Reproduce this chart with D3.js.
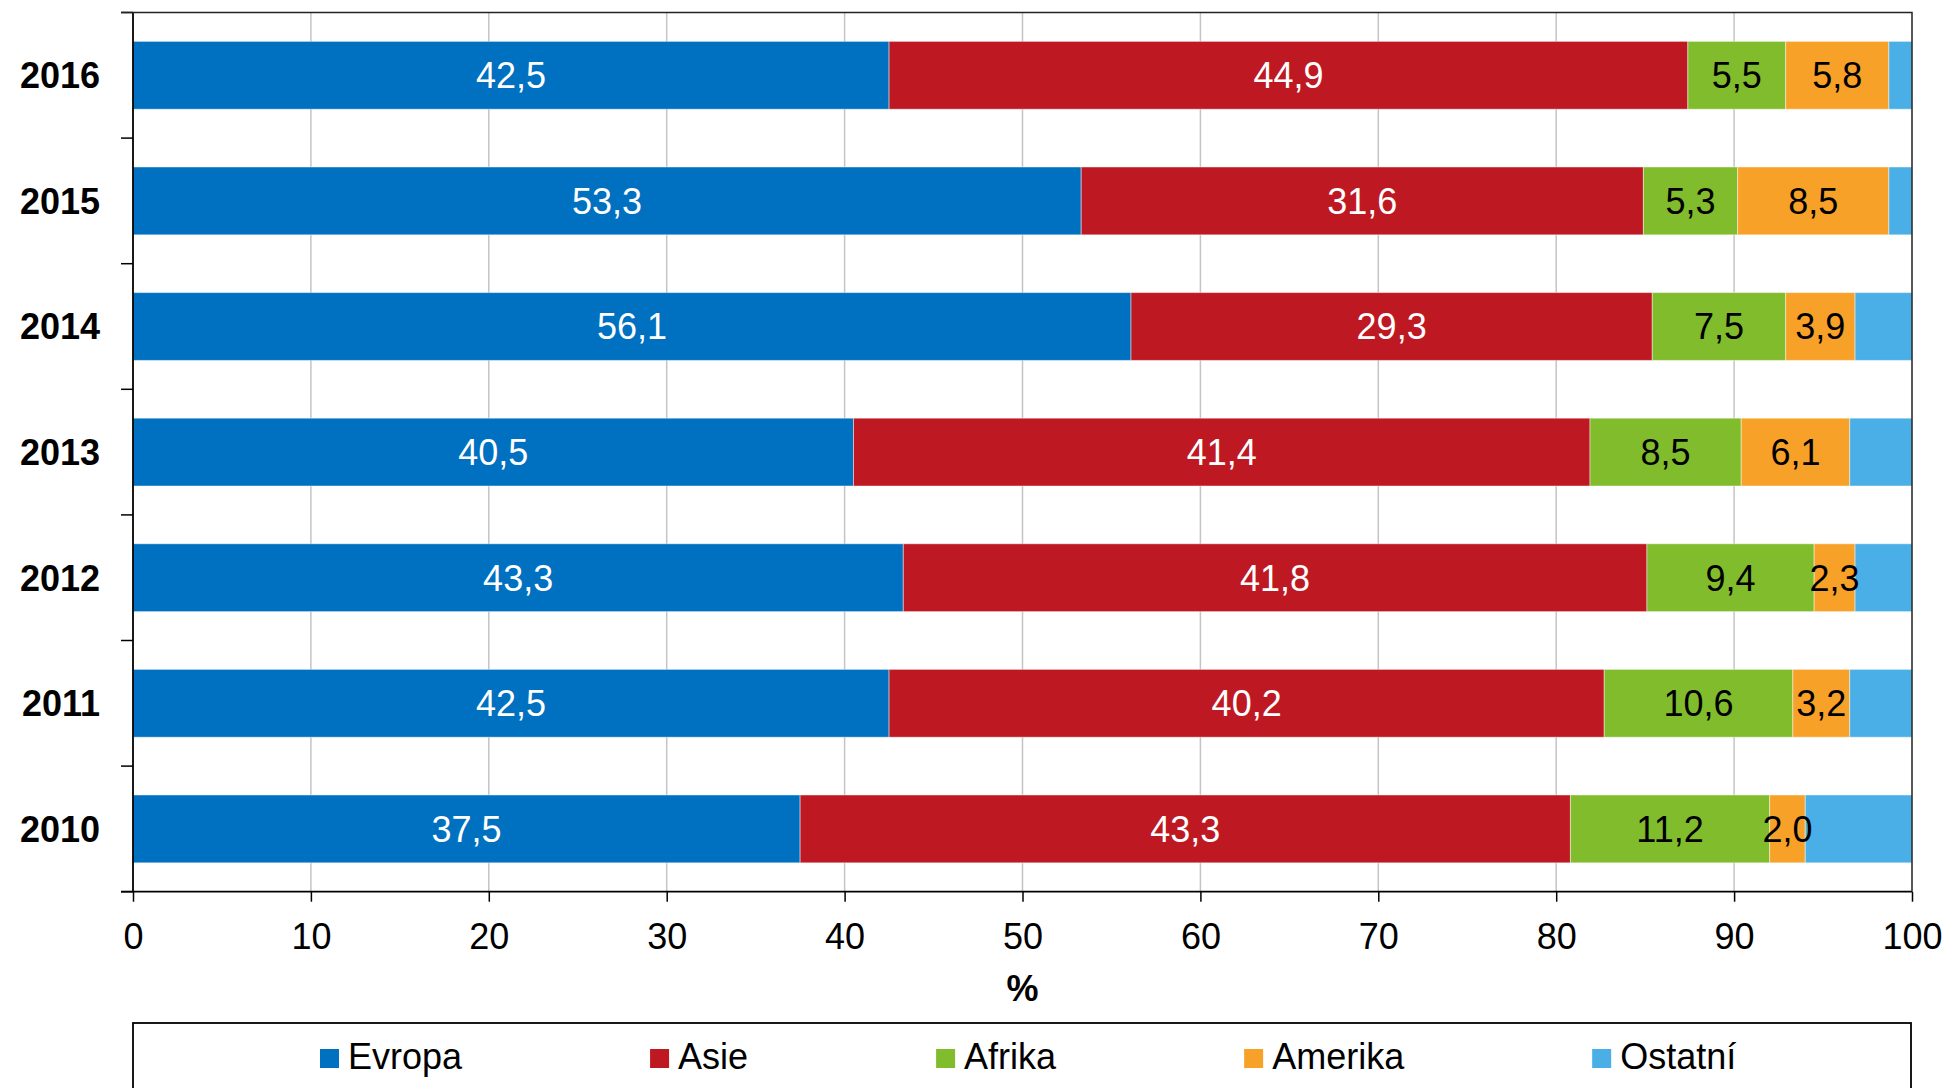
<!DOCTYPE html>
<html>
<head>
<meta charset="utf-8">
<script src="https://cdn.jsdelivr.net/npm/d3@7"></script>
<style>
  body { margin: 0; background: #fff; }
  text { font-family: "Liberation Sans", Arial, sans-serif; }
</style>
</head>
<body>
<div id="chart"></div>
<script>
var years = ["2010", "2011", "2012", "2013", "2014", "2015", "2016"];
var evropa  = [37.5, 42.5, 43.3, 40.5, 56.1, 53.3, 42.5];
var asie    = [43.3, 40.2, 41.8, 41.4, 29.3, 31.6, 44.9];
var afrika  = [11.2, 10.6, 9.4, 8.5, 7.5, 5.3, 5.5];
var amerika = [2.0, 3.2, 2.3, 6.1, 3.9, 8.5, 5.8];
var ostatni = [6.0, 3.5, 3.2, 3.5, 3.2, 1.3, 1.3];
var seriesNames = ["Evropa", "Asie", "Afrika", "Amerika", "Ostatní"];
var xTicks = [0, 10, 20, 30, 40, 50, 60, 70, 80, 90, 100];

var colors = ["#0070c0", "#be1922", "#80bc2c", "#f8a128", "#49afe6"];
var labelColors = ["#fff", "#fff", "#000", "#000", null];

// table for d3.stack
var table = years.map(function(y, i) {
  return {year: y, "Evropa": evropa[i], "Asie": asie[i], "Afrika": afrika[i],
          "Amerika": amerika[i], "Ostatní": ostatni[i]};
});

var W = 1946, H = 1088;
// note: "top" is taken by window.top, so plot edges get their own names
var plotLeft = 133, plotRight = 1912, plotTop = 12.5, plotBottom = 891.7;

var svg = d3.select("#chart").append("svg")
  .attr("width", W)
  .attr("height", H);

var x = d3.scaleLinear().domain([0, 100]).range([plotLeft, plotRight]);
var y = d3.scaleBand()
  .domain(years.slice().reverse())
  .range([plotTop, plotBottom])
  .paddingInner(0.46)
  .paddingOuter(0.23);

var fmt = d3.formatLocale({decimal: ",", thousands: " ", grouping: [3], currency: ["", ""]}).format(".1f");

// grid
svg.append("g").selectAll("line")
  .data(xTicks.slice(1, -1))
  .join("line")
    .attr("x1", function(d) { return x(d); })
    .attr("x2", function(d) { return x(d); })
    .attr("y1", plotTop)
    .attr("y2", plotBottom)
    .attr("stroke", "#c4c4c4")
    .attr("stroke-width", 1.5);

// bars
var stacked = d3.stack().keys(seriesNames)(table);

var layers = svg.append("g").selectAll("g")
  .data(stacked)
  .join("g")
    .attr("fill", function(d, i) { return colors[i]; });

layers.selectAll("rect")
  .data(function(d) { return d; })
  .join("rect")
    .attr("x", function(d) { return x(d[0]); })
    .attr("y", function(d) { return y(d.data.year); })
    .attr("width", function(d) { return x(d[1]) - x(d[0]); })
    .attr("height", y.bandwidth())
    .attr("stroke", "rgba(255,255,255,0.45)")
    .attr("stroke-width", 1);

// value labels (Ostatní has none)
stacked.forEach(function(layer, i) {
  if (!labelColors[i]) return;
  svg.append("g").selectAll("text")
    .data(layer)
    .join("text")
      .attr("x", function(d) { return (x(d[0]) + x(d[1])) / 2; })
      .attr("y", function(d) { return y(d.data.year) + y.bandwidth() / 2; })
      .attr("dy", "0.36em")
      .attr("text-anchor", "middle")
      .attr("font-size", 36)
      .attr("fill", labelColors[i])
      .text(function(d) { return fmt(d[1] - d[0]); });
});

// x axis
var xAxis = svg.append("g")
  .attr("transform", "translate(0," + plotBottom + ")")
  .call(d3.axisBottom(x).tickValues(xTicks).tickSize(10).tickPadding(22).tickFormat(d3.format("d")));
xAxis.select(".domain").attr("stroke", "#000").attr("stroke-width", 1.8)
  .attr("d", "M" + (plotLeft - 12) + ",0H" + plotRight);
xAxis.selectAll(".tick line").attr("stroke", "#000").attr("stroke-width", 1.5);
xAxis.selectAll(".tick text")
  .attr("font-family", "Liberation Sans, Arial, sans-serif")
  .attr("font-size", 36)
  .attr("fill", "#000");

// y axis (ticks at band boundaries)
var bounds = d3.range(years.length + 1).map(function(i) { return plotTop + i * y.step(); });
svg.append("line")
  .attr("x1", plotLeft).attr("x2", plotLeft)
  .attr("y1", plotTop).attr("y2", plotBottom)
  .attr("stroke", "#000").attr("stroke-width", 1.8);
svg.append("g").selectAll("line")
  .data(bounds)
  .join("line")
    .attr("x1", plotLeft - 12).attr("x2", plotLeft)
    .attr("y1", function(d) { return d; })
    .attr("y2", function(d) { return d; })
    .attr("stroke", "#000").attr("stroke-width", 1.5);

svg.append("g").selectAll("text")
  .data(years)
  .join("text")
    .attr("x", 100)
    .attr("y", function(d) { return y(d) + y.bandwidth() / 2; })
    .attr("dy", "0.36em")
    .attr("text-anchor", "end")
    .attr("font-size", 36)
    .attr("font-weight", "bold")
    .text(function(d) { return d; });

// top and right frame
svg.append("path")
  .attr("d", "M" + (plotLeft - 12) + "," + plotTop + "H" + plotRight + "V" + plotBottom)
  .attr("fill", "none")
  .attr("stroke", "#222")
  .attr("stroke-width", 1.5);

// axis title
svg.append("text")
  .attr("x", (plotLeft + plotRight) / 2)
  .attr("y", 1001)
  .attr("text-anchor", "middle")
  .attr("font-size", 36)
  .attr("font-weight", "bold")
  .text("%");

// legend
svg.append("rect")
  .attr("x", plotLeft).attr("y", 1023)
  .attr("width", plotRight - 1 - plotLeft).attr("height", 100)
  .attr("fill", "none")
  .attr("stroke", "#000").attr("stroke-width", 1.8);

var lx = 320;
seriesNames.forEach(function(name, i) {
  svg.append("rect")
    .attr("x", lx).attr("y", 1049)
    .attr("width", 19).attr("height", 19)
    .attr("fill", colors[i]);
  var t = svg.append("text")
    .attr("x", lx + 28).attr("y", 1069)
    .attr("font-size", 36)
    .text(name);
  lx = lx + 28 + t.node().getComputedTextLength() + 188;
});
</script>
</body>
</html>
